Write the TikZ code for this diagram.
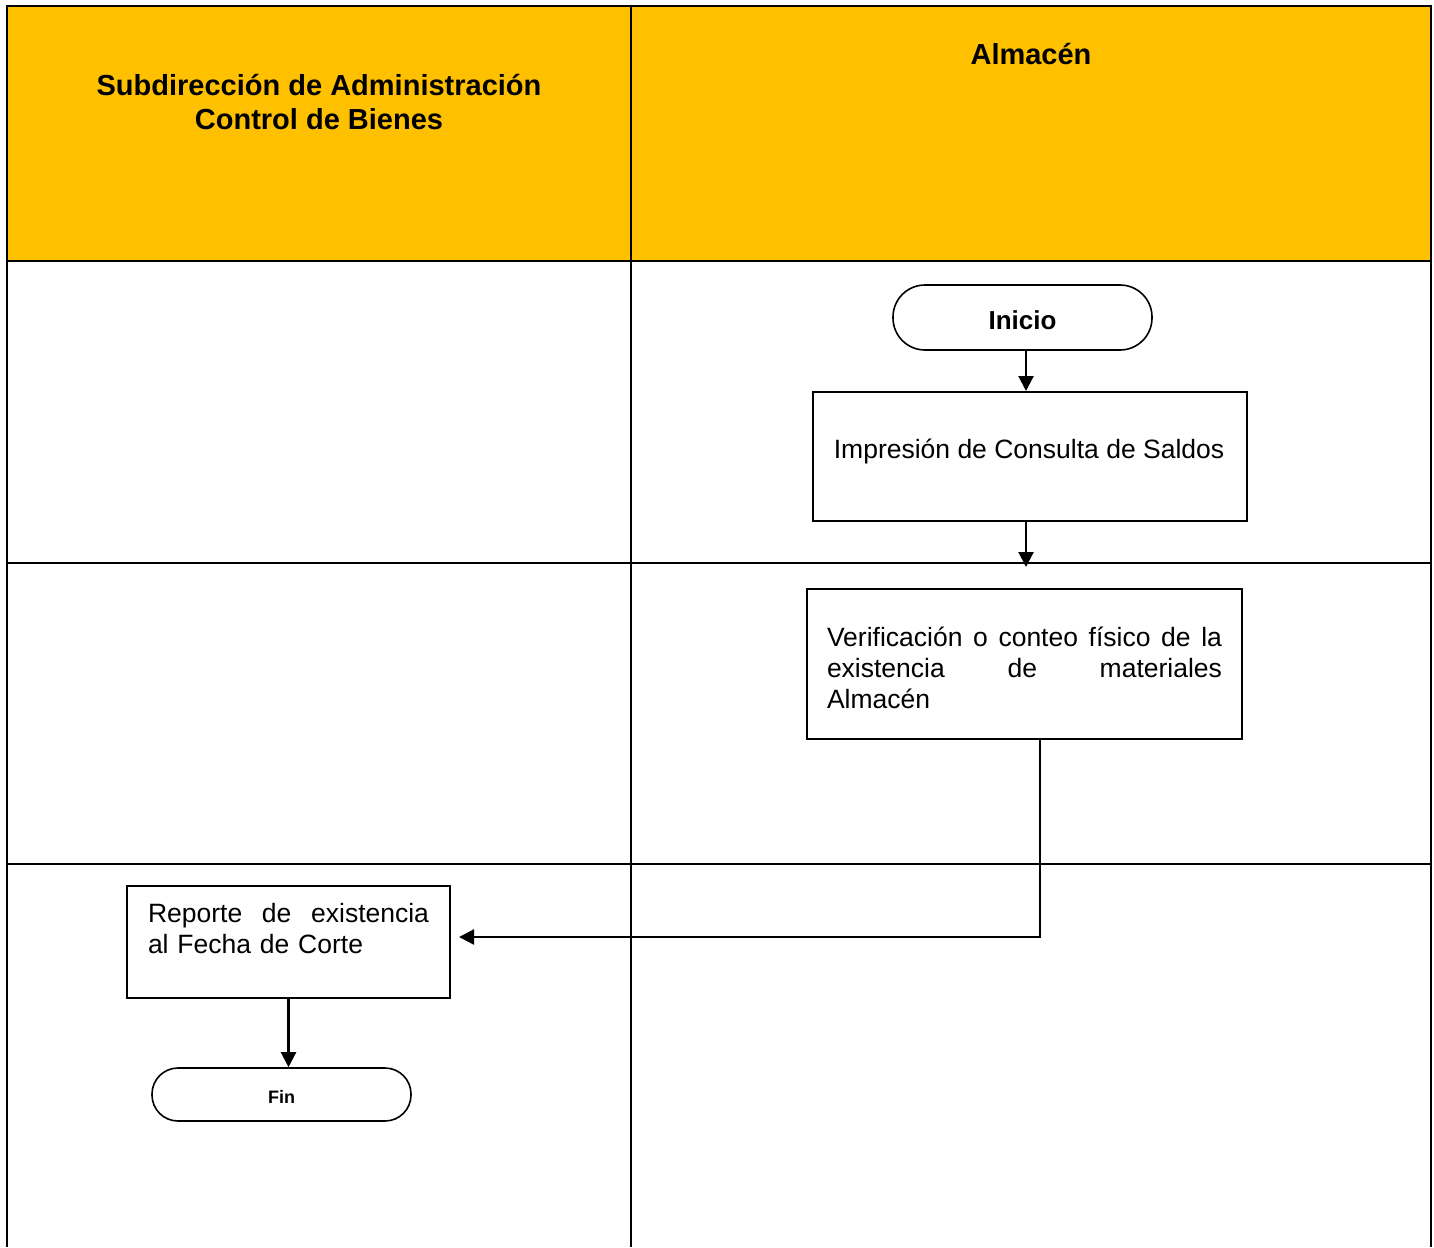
\documentclass[tikz,border=0pt]{standalone}
\usepackage{fontspec}
\setmainfont{Liberation Sans}
\usetikzlibrary{arrows.meta}
\definecolor{hdrfill}{HTML}{FFC000}
\newcommand{\spreadline}[2]{\leavevmode\hbox to #1{#2}}
\begin{document}
\begin{tikzpicture}[x=1pt,y=-1pt,
  tbl/.style={line width=2pt, line join=miter},
  box/.style={draw, line width=2pt, inner sep=0pt, font=\fontsize{26.5}{31}\selectfont},
  term/.style={draw, line width=1.6pt, inner sep=0pt},
  arr/.style={line width=2.2pt, -{Triangle[length=15pt,width=15pt]}},
  hdrtext/.style={font=\bfseries\fontsize{29}{34}\selectfont, align=center}]

\useasboundingbox (0,0) rectangle (1434,1247);

% table
\fill[hdrfill] (7,6) rectangle (1431,261);
\draw[tbl] (7,1247) -- (7,6) -- (1431,6) -- (1431,1247);
\draw[tbl] (631,6) -- (631,1247);
\foreach \yy in {261,563,864} \draw[tbl] (7,\yy) -- (1431,\yy);

% headers
\node[hdrtext] (h1) at (319,102) {Subdirección de Administración\\Control de Bienes};
\node[hdrtext, anchor=base] (h2) at (1031,64.5) {Almacén};

% helper coordinates
\coordinate (x1) at (1026,0);
\coordinate (x2) at (1040,0);
\coordinate (y3) at (0,937);

% nodes
\node[term, rounded corners=32pt, minimum width=259pt, minimum height=65pt,
      text height=24pt, text depth=0pt,
      font=\bfseries\fontsize{26}{30}\selectfont] (ini) at (1022.5,317.5) {Inicio};

\node[box, anchor=north west, minimum width=434pt, text height=66.5pt, text depth=62.5pt]
  (b1) at (812,391) {\hspace*{-2pt}Impresión de Consulta de Saldos};

\node[box, anchor=north west, text width=395pt, inner xsep=20pt, inner ysep=0pt,
      text height=57.5pt, text depth=92.5pt, align=left]
  (b2) at (806,588) {\spreadline{395pt}{Verificación\hfill o\hfill conteo\hfill físico\hfill de\hfill la}\\
                     \spreadline{395pt}{existencia\hfill de\hfill materiales}\\
                     Almacén};

\node[box, anchor=north west, text width=281pt, inner xsep=21pt, inner ysep=0pt,
      text height=36.5pt, text depth=75.5pt, align=left]
  (b3) at (126,885) {\spreadline{281pt}{Reporte\hfill de\hfill existencia}\\
                     al Fecha de Corte};

\node[term, rounded corners=26pt, minimum width=259pt, minimum height=53pt,
      text height=17.8pt, text depth=0pt,
      font=\bfseries\fontsize{18}{21}\selectfont] (fin) at (281.5,1094.5) {Fin};

% connectors
\draw[arr] (ini.south -| x1) -- (b1.north -| x1);
\draw[arr, shorten >=21pt] (b1.south -| x1) -- (b2.north -| x1);
\draw[arr, shorten >=8pt] (b2.south -| x2) |- (b3.east |- y3);
\draw[arr] (b3.south) -- (b3.south |- fin.north);
\end{tikzpicture}
\end{document}
